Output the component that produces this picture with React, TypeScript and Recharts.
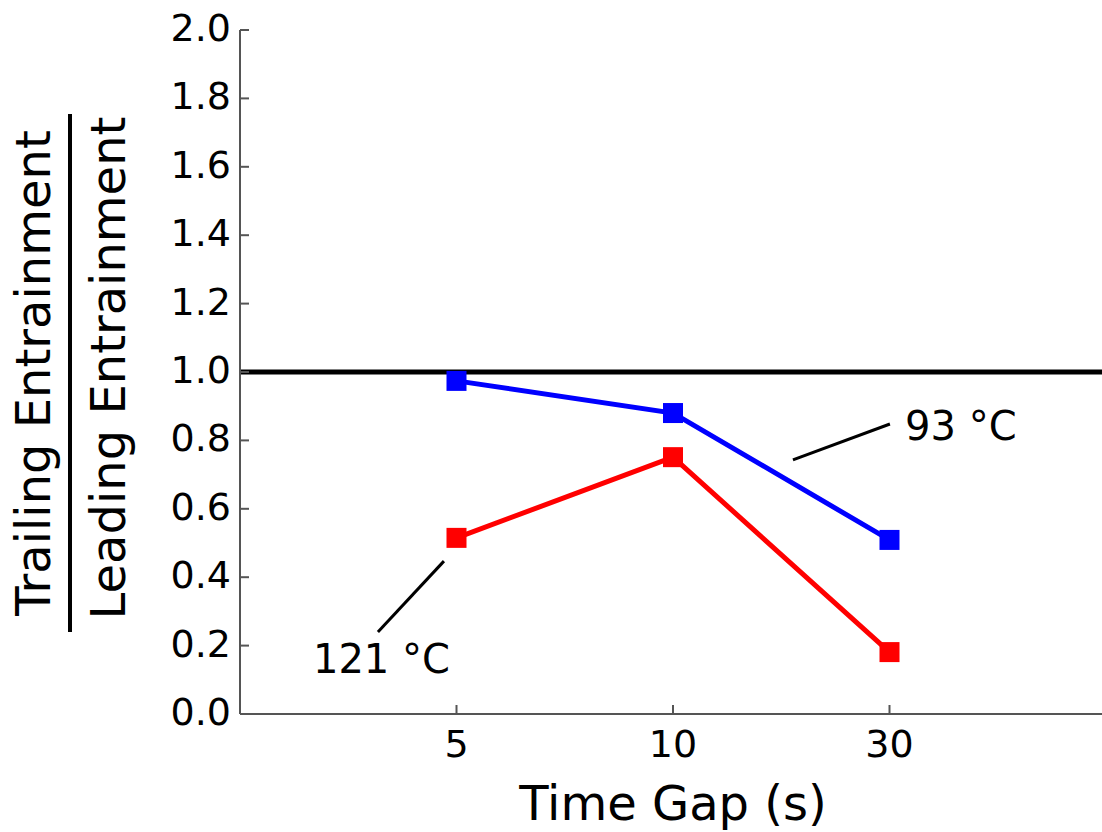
import React from 'react';
import {
  LineChart,
  Line,
  XAxis,
  YAxis,
  ReferenceLine,
  ReferenceDot,
} from 'recharts';

// Time gap categories (s)
const categories = ['5', '10', '30'];
// Trailing / leading entrainment ratio at each temperature
const ratio93 = [0.974, 0.88, 0.509];
const ratio121 = [0.515, 0.751, 0.181];
// Y-axis ticks
const yTicks = [0, 0.2, 0.4, 0.6, 0.8, 1.0, 1.2, 1.4, 1.6, 1.8, 2.0];
const xTicks = [1, 2, 3];

const data = categories.map((c, i) => ({
  pos: i + 1,
  label: c,
  t93: ratio93[i],
  t121: ratio121[i],
}));

const FONT = '"DejaVu Sans", Verdana, sans-serif';
const AXIS_COLOR = '#555555';

const SquareDot = (props: any) => {
  const { cx, cy, fill } = props;
  if (cx == null || cy == null) return null;
  return <rect x={cx - 10} y={cy - 10} width={20} height={20} fill={fill} />;
};

const YTick = (props: any) => {
  const { x, y, payload } = props;
  return (
    <g>
      <line x1={x} x2={x + 9} y1={y} y2={y} stroke={AXIS_COLOR} strokeWidth={2} />
      <text
        x={x - 9}
        y={y + 11}
        textAnchor="end"
        fontFamily={FONT}
        fontSize={38}
        fill="#000"
      >
        {Number(payload.value).toFixed(1)}
      </text>
    </g>
  );
};

const XTick = (props: any) => {
  const { x, y, payload } = props;
  const label = categories[payload.value - 1];
  return (
    <g>
      <line x1={x} x2={x} y1={y} y2={y - 9} stroke={AXIS_COLOR} strokeWidth={2} />
      <text
        x={x}
        y={y + 43}
        textAnchor="middle"
        fontFamily={FONT}
        fontSize={38}
        fill="#000"
      >
        {label}
      </text>
    </g>
  );
};

// Fraction-style y label: trailing over leading
const YLabel = (props: any) => {
  const { viewBox } = props;
  const cy = viewBox.y + viewBox.height / 2 + 1;
  return (
    <g fontFamily={FONT} fontSize={48} fill="#000">
      <text x={50} y={cy} textAnchor="middle" transform={`rotate(-90, 50, ${cy})`}>
        Trailing Entrainment
      </text>
      <line x1={70} x2={70} y1={cy - 259} y2={cy + 259} stroke="#000" strokeWidth={4} />
      <text x={125} y={cy - 5} textAnchor="middle" transform={`rotate(-90, 125, ${cy - 5})`}>
        Leading Entrainment
      </text>
    </g>
  );
};

const XLabel = (props: any) => {
  const { viewBox } = props;
  return (
    <text
      x={viewBox.x + viewBox.width / 2}
      y={viewBox.y + 106}
      textAnchor="middle"
      fontFamily={FONT}
      fontSize={48}
      fill="#000"
    >
      Time Gap (s)
    </text>
  );
};

const annotationText = (text: string) => (props: any) => (
  <text x={props.cx} y={props.cy} fontFamily={FONT} fontSize={40} fill="#000" textAnchor="start">
    {text}
  </text>
);

export default function App() {
  return (
    <div
      style={{
        position: 'absolute',
        left: 0,
        top: 0,
        width: 1102,
        height: 832,
        overflow: 'hidden',
        background: '#fff',
      }}
    >
      <LineChart
        width={1106}
        height={832}
        data={data}
        margin={{ top: 30, right: 0, bottom: 0, left: 0 }}
      >
        <XAxis
          dataKey="pos"
          type="number"
          domain={[0, 4]}
          ticks={xTicks}
          tickSize={0}
          tickMargin={0}
          tick={<XTick />}
          height={118}
          axisLine={{ stroke: AXIS_COLOR, strokeWidth: 2 }}
          tickLine={false}
          label={<XLabel />}
        />
        <YAxis
          type="number"
          domain={[0, 2]}
          ticks={yTicks}
          tickSize={0}
          tickMargin={0}
          tick={<YTick />}
          width={240}
          axisLine={{ stroke: AXIS_COLOR, strokeWidth: 2 }}
          tickLine={false}
          interval={0}
          label={<YLabel />}
        />
        <Line
          dataKey="t93"
          stroke="#0000ff"
          strokeWidth={5}
          dot={<SquareDot fill="#0000ff" />}
          activeDot={false}
          isAnimationActive={false}
        />
        <Line
          dataKey="t121"
          stroke="#ff0000"
          strokeWidth={5}
          dot={<SquareDot fill="#ff0000" />}
          activeDot={false}
          isAnimationActive={false}
        />
        <ReferenceLine y={1} stroke="#000" strokeWidth={5} />
        <ReferenceLine
          segment={[
            { x: 2.554, y: 0.743 },
            { x: 3.002, y: 0.848 },
          ]}
          stroke="#000"
          strokeWidth={3}
        />
        <ReferenceDot x={3.072} y={0.801} r={0} shape={annotationText('93 °C')} />
        <ReferenceLine
          segment={[
            { x: 0.637, y: 0.24 },
            { x: 0.942, y: 0.447 },
          ]}
          stroke="#000"
          strokeWidth={3}
        />
        <ReferenceDot x={0.337} y={0.12} r={0} shape={annotationText('121 °C')} />
      </LineChart>
    </div>
  );
}
